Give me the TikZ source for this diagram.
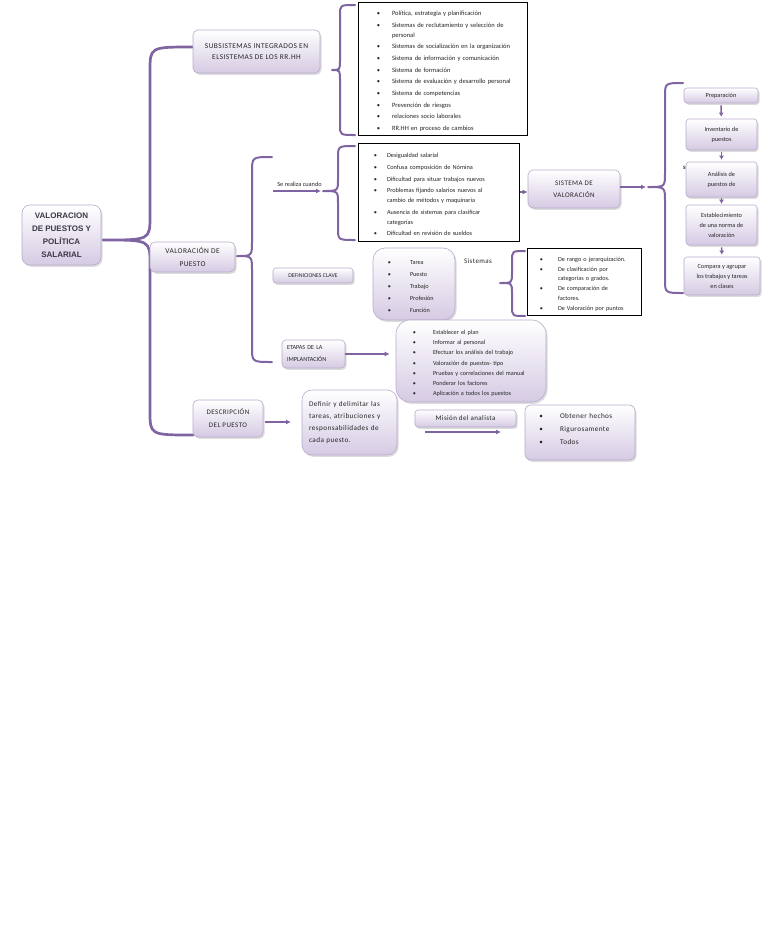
\documentclass[tikz,border=0pt]{standalone}
\usepackage{fontspec}
\setmainfont{Carlito}
\newfontfamily\arialf{Liberation Sans}
\newfontfamily\spacedf[LetterSpace=6]{Carlito}
\usepackage{tikz}
\usetikzlibrary{arrows.meta, shadows, positioning}

\definecolor{mapline}{HTML}{8064A2}
\definecolor{boxlav}{HTML}{D5CAE3}
\definecolor{boxedge}{HTML}{B9AACB}
\definecolor{boxtext}{HTML}{262626}

% bullet list: left margin, label sep, item sep
\newenvironment{blist}[3]{\begin{list}{\textbullet}{\setlength{\leftmargin}{#1}\setlength{\labelsep}{#2}\setlength{\labelwidth}{4pt}\setlength{\itemsep}{#3}\setlength{\parsep}{0pt}\setlength{\topsep}{0pt}\setlength{\partopsep}{0pt}\setlength{\rightmargin}{0pt}}}{\end{list}}

% brace: tip x, tip y, spine x, end x, top y, bottom y, radius
\newcommand{\curlyb}[7]{\draw[brace] (#4,#5) .. controls (#3,#5) .. (#3,#5+#7) -- (#3,#2-#7) .. controls (#3,#2) .. (#1,#2) .. controls (#3,#2) .. (#3,#2+#7) -- (#3,#6-#7) .. controls (#3,#6) .. (#4,#6);}

\tikzset{
  mapbox/.style={draw=boxedge, line width=0.6pt, rounded corners=5pt, top color=white, bottom color=boxlav,
    drop shadow={opacity=0.28, shadow xshift=1.5pt, shadow yshift=-1.8pt}, text=boxtext, align=center, inner sep=2pt},
  listbox/.style={draw=black, line width=1pt, fill=white, text=boxtext, align=left, inner xsep=4pt, inner ysep=2pt},
  brace/.style={draw=mapline, line width=2pt, line cap=round, line join=round},
  arr/.style={draw=mapline, line width=1.5pt, -{Latex[length=5pt,width=5pt]}},
}

\begin{document}
\begin{tikzpicture}[x=1pt, y=-1pt]
    \useasboundingbox (0,0) rectangle (768,932);

    % braces
    \begin{scope}[brace/.append style={line width=2.7pt}]
    \curlyb{103}{240}{150}{193}{47}{435}{24}
    \end{scope}
    \curlyb{332}{70}{340}{355}{5}{135}{10}
    \curlyb{237}{256}{252}{272}{157}{362}{15}
    \curlyb{323}{191}{338}{355}{146}{240}{12}
    \curlyb{648}{187}{665}{683}{83}{293}{14}
    \curlyb{500}{283}{512}{525}{251}{316}{10}

    \node[mapbox, minimum width=79pt, minimum height=60pt, rounded corners=8pt, text=boxtext!75!mapline,
      font=\arialf\bfseries\fontsize{8}{13}\selectfont] (valpp) at (61.5,235) {VALORACION\\DE PUESTOS Y\\POLÍTICA\\SALARIAL};

    \node[mapbox, minimum width=127pt, minimum height=43pt, font=\spacedf\fontsize{7.4}{11.5}\selectfont] (subs) at (256.5,51.5)
      {SUBSISTEMAS INTEGRADOS EN\\ELSISTEMAS DE LOS RR.HH};

    \node[listbox, text width=161pt, minimum height=133pt, font=\fontsize{6.5}{10}\selectfont] (subslist) at (442.5,68.5) {%
      \begin{blist}{30pt}{12pt}{1.7pt}
      \item Política, estrategia y planificación
      \item Sistemas de reclutamiento y selección de\newline personal
      \item Sistemas de socialización en la organización
      \item Sistema de información y comunicación
      \item Sistema de formación
      \item Sistema de evaluación y desarrollo personal
      \item Sistema de competencias
      \item Prevención de riesgos
      \item relaciones socio laborales
      \item RR.HH en proceso de cambios
      \end{blist}};

    \node[mapbox, minimum width=85pt, minimum height=30pt, font=\spacedf\fontsize{7.4}{13}\selectfont] (valpuesto) at (192.5,257)
      {VALORACIÓN DE\\PUESTO};

    \node[font=\fontsize{6.3}{8}\selectfont, text=boxtext, inner sep=0pt] (sereal) at (299.5,184) {Se realiza cuando};
    \coordinate (serstart) at (273,191);
    \coordinate (b3tip) at (321,191);
    \draw[arr] (serstart) -- (b3tip);

    \node[listbox, text width=153pt, minimum height=98pt, font=\fontsize{6.3}{10}\selectfont] (causes) at (438.5,192) {%
      \begin{blist}{25pt}{10pt}{1.6pt}
      \item Desigualdad salarial
      \item Confusa composición de Nómina
      \item Dificultad para situar trabajos nuevos
      \item Problemas fijando salarios nuevos al\newline cambio de métodos y maquinaria
      \item Ausencia de sistemas para clasificar\newline categorías
      \item Dificultad en revisión de sueldos
      \end{blist}};

    \node[mapbox, minimum width=92pt, minimum height=38pt, font=\spacedf\fontsize{7}{12}\selectfont] (sistval) at (574,189)
      {SISTEMA DE\\VALORACIÓN};
    \draw[arr] (causes.east) -- (causes.east -| sistval.west);
    \coordinate (b5tip) at (646,187);
    \draw[arr] (sistval.east |- b5tip) -- (b5tip);

    % steps of the valuation system
    \node[font=\bfseries\fontsize{5}{5}\selectfont, text=boxtext, anchor=west, inner sep=0pt] (sefrag) at (683,167.5) {SE};
    \begin{scope}[every node/.style={mapbox, rounded corners=3pt, font=\fontsize{6.3}{10}\selectfont}]
    \node[minimum width=74pt, minimum height=15pt] (prep) at (721,95.5) {Preparación};
    \node[minimum width=71pt, minimum height=31pt] (invent) at (721.5,134.5) {Inventario de\\puestos};
    \node[minimum width=71pt, minimum height=35pt] (analisis) at (721.5,179.5) {Análisis de\\puestos de};
    \node[minimum width=71pt, minimum height=40pt] (estab) at (721.5,225) {Establecimiento\\de una norma de\\valoración};
    \node[minimum width=76pt, minimum height=38pt] (compara) at (722,276) {Compara y agrupar\\los trabajos y tareas\\en clases};
    \end{scope}
    \draw[arr, -{Latex[length=4pt,width=5pt]}, shorten <=2pt, shorten >=2pt] (prep) -- (invent);
    \draw[arr, -{Latex[length=4pt,width=5pt]}, shorten <=2pt, shorten >=2pt] (invent) -- (analisis);
    \draw[arr, -{Latex[length=4pt,width=5pt]}, shorten <=1pt, shorten >=1pt] (analisis) -- (estab);
    \draw[arr, -{Latex[length=4pt,width=5pt]}, shorten <=2pt, shorten >=2pt] (estab) -- (compara);

    \node[mapbox, rounded corners=3pt, minimum width=80pt, minimum height=15pt, font=\fontsize{5.8}{7}\selectfont] (defclave) at (313,275.5)
      {DEFINICIONES CLAVE};

    \node[mapbox, rounded corners=12pt, text width=74pt, minimum height=72pt, inner xsep=4pt, align=left,
      font=\fontsize{6.2}{9}\selectfont] (terms) at (414,284) {%
      \begin{blist}{33pt}{19pt}{3pt}
      \item Tarea
      \item Puesto
      \item Trabajo
      \item Profesión
      \item Función
      \end{blist}};

    \node[font=\spacedf\fontsize{7}{8}\selectfont, text=boxtext, inner sep=0pt] (sistemas) at (478,261) {Sistemas};

    \node[listbox, text width=106pt, minimum height=67pt, font=\fontsize{6.2}{9.5}\selectfont] (systlist) at (584,281.5) {%
      \begin{blist}{27pt}{15pt}{0.5pt}
      \item De rango o jerarquización.
      \item De clasificación por\newline categorías o grados.
      \item De comparación de\newline factores.
      \item De Valoración por puntos
      \end{blist}};

    \node[mapbox, rounded corners=4pt, text width=53pt, inner xsep=5pt, minimum height=28pt, align=left,
      font=\fontsize{6.2}{12}\selectfont] (etapas) at (313.5,354) {ETAPAS DE LA\\IMPLANTACIÓN};

    \node[mapbox, rounded corners=14pt, text width=142pt, inner xsep=4pt, minimum height=82pt, align=left,
      font=\fontsize{6.2}{9}\selectfont] (stages) at (471,361) {%
      \begin{blist}{33pt}{17pt}{1.3pt}
      \item Establecer el plan
      \item Informar al personal
      \item Efectuar los análisis del trabajo
      \item Valoración de puestos- tipo
      \item Pruebas y correlaciones del manual
      \item Ponderar los factores
      \item Aplicación a todos los puestos
      \end{blist}};
    \draw[arr, shorten >=6pt] (etapas.east) -- (etapas.east -| stages.west);

    \node[mapbox, rounded corners=5pt, minimum width=70pt, minimum height=37pt, font=\spacedf\fontsize{7}{13}\selectfont] (descr) at (228,418.5)
      {DESCRIPCIÓN\\DEL PUESTO};

    \node[mapbox, rounded corners=10pt, text width=81pt, inner xsep=7pt, minimum height=65pt, align=left,
      font=\spacedf\fontsize{7.2}{12}\selectfont] (definir) at (349.5,422.5)
      {Definir y delimitar las\\tareas, atribuciones y\\responsabilidades de\\cada puesto.};
    \coordinate (dstart) at (265,422);
    \coordinate (dend) at (291,422);
    \draw[arr] (dstart) -- (dend);

    \node[mapbox, rounded corners=3pt, minimum width=101pt, minimum height=17pt, font=\spacedf\fontsize{7}{8}\selectfont] (mision) at (465.5,418.5)
      {Misión del analista};
    \coordinate (mstart) at (425,432);
    \coordinate (mend) at (501,432);
    \draw[arr] (mstart) -- (mend);

    \node[mapbox, rounded corners=6pt, text width=102pt, inner xsep=4pt, minimum height=55pt, align=left,
      font=\spacedf\fontsize{7.2}{10}\selectfont] (facts) at (580,432.5) {%
      \begin{blist}{31pt}{17pt}{3pt}
      \item Obtener hechos
      \item Rigurosamente
      \item Todos
      \end{blist}\vspace{11pt}};
\end{tikzpicture}
\end{document}
